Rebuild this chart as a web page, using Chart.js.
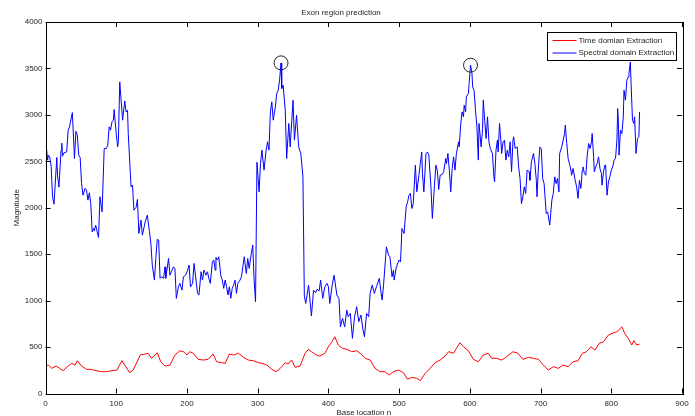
<!DOCTYPE html>
<html>
<head>
<meta charset="utf-8">
<title>Exon region prediction</title>
<script src="https://cdn.jsdelivr.net/npm/chart.js@4.4.1/dist/chart.umd.min.js"></script>
<style>
  html, body { margin: 0; padding: 0; background: #fff; }
  #wrap { width: 695px; height: 416px; }
</style>
</head>
<body>
<div id="wrap"><canvas id="exonChart" width="695" height="416"></canvas></div>
<script>
// values
const spectralX = [1,3,4,6,8,10,12,16,17,19,22,23,24,26,30,32,34,35,38,41,43,45,47,49,51,53,56,58,60,62,64,66,68,69,71,73,75,77,80,83,86,88,90,92,94,96,97,100,102,103,105,109,112,114,116,117,121,123,125,128,130,132,135,137,141,144,
  147,149,151,154,156,158,160,162,164,167,169,170,174,176,178,181,183,185,188,190,193,195,198,201,203,205,208,210,212,215,217,220,222,224,227,229,231,233,236,238,240,241,243,245,248,250,252,254,256,258,260,262,264,266,268,270,272,275,277,279,281,284,286,288,291,293,295,297,299,
  302,304,306,309,312,314,316,318,320,322,325,327,329,331,333,334,336,339,341,344,346,350,352,355,358,361,364,366,368,372,376,379,382,384,387,389,392,395,398,400,402,405,408,412,415,417,420,423,426,428,431,434,437,440,443,446,449,451,454,457,459,462,465,468,472,474,476,478,482,485,487,490,492,493,496,497,500,502,504,507,510,512,514,516,518,520,
  523,525,528,530,532,533,535,538,540,542,545,547,550,552,554,556,558,561,563,566,567,569,571,573,575,577,579,581,584,585,587,589,591,592,594,595,598,599,601,603,604,606,608,610,612,613,616,618,619,621,623,625,627,629,632,634,635,637,639,640,642,644,645,647,649,651,653,655,657,659,661,662,664,667,669,671,
  673,675,677,679,681,684,685,687,690,692,694,695,697,699,701,703,705,708,710,713,716,718,720,722,724,726,727,730,732,734,735,737,739,742,744,746,749,751,753,755,757,759,760,762,764,766,768,770,772,773,775,776,778,780,782,784,786,787,789,791,792,794,796,798,800,802,804,806,808,809,810,811,813,815,817,818,820,822,824,825,827,828,830,832,833,835,837,839,840];
const spectralY = [2674,2513,2566,2548,2447,2118,2038,2541,2350,2222,2620,2695,2555,2591,2601,2835,2871,2914,3025,2530,2824,2781,2566,2541,2262,2135,2208,2189,2082,2161,2047,1740,1777,1752,1813,1740,1680,2118,1956,2638,2638,2674,2871,2835,2925,2943,3057,2799,2655,2710,3355,2943,3150,3032,3050,2799,2225,2243,1974,2003,2089,1723,1867,1705,1849,1920,
  1740,1616,1382,1221,1454,1659,1652,1240,1257,1240,1364,1240,1454,1274,1311,1364,1347,1024,1150,1186,1113,1257,1274,1328,1382,1150,1186,1401,1274,1078,1060,1311,1221,1328,1274,1311,1240,1186,1418,1437,1328,1465,1437,1472,1264,1221,1132,1221,1150,1060,1150,1024,1132,1167,1221,1078,1186,1221,1257,1364,1472,1293,1454,1347,1508,1598,1221,988,2490,
  2171,2477,2620,2405,2620,2710,2620,3032,3140,2943,3086,3230,3265,3374,3559,3284,3319,3050,2530,2907,2655,3158,2728,2996,2655,2584,2333,1049,970,1167,834,1113,1085,1121,1106,1221,1024,1150,1186,1150,970,1150,1274,1060,1024,718,809,718,898,827,862,594,827,934,773,845,683,611,862,827,1078,1167,1078,1150,1240,1113,1006,1167,1579,1490,1472,1257,1328,1221,1364,1382,1437,1418,1777,1723,2010,2064,2135,2154,1992,2045,
  2459,2171,2350,2477,2601,2369,2171,2584,2601,2566,2225,1885,2243,2459,2405,2196,2350,2359,2387,2530,2477,2584,2405,2171,2423,2548,2405,2584,2710,2655,2889,3032,2979,3104,3032,3193,3230,3337,3535,3445,3301,3265,3050,2871,2513,2907,2655,2853,3158,2943,2745,2979,2710,2638,2584,2333,2279,2620,2728,2601,2907,2710,2584,2710,2728,2513,2620,2548,2710,2387,2728,2764,2638,2655,2440,2315,
  2045,2118,2225,2154,2405,2387,2296,2494,2584,2477,2296,2118,2440,2655,2638,2315,2261,1938,1956,1813,2082,2154,2333,2261,2315,2171,2584,2655,2728,2799,2889,2692,2530,2440,2350,2423,2296,2225,2101,2296,2208,2405,2440,2369,2350,2566,2692,2638,2710,2799,2548,2387,2440,2477,2548,2423,2369,2243,2387,2459,2459,2135,2279,2333,2405,2440,2513,2530,2728,3068,2943,2566,2835,2799,2979,3265,3158,3374,3409,3445,3570,3337,2943,2907,2979,2584,2745,2764,3032];

const timeX = [1,4,9,15,20,25,32,37,42,45,51,58,65,72,79,86,94,101,108,112,119,124,134,141,145,150,158,163,169,176,183,190,195,200,204,209,216,223,230,237,242,249,254,260,266,273,280,287,294,301,306,313,320,326,332,339,343,348,353,360,367,372,376,383,388,395,400,405,409,414,420,426,433,440,
  445,452,459,466,473,480,486,492,499,506,512,518,525,530,537,544,551,558,565,570,577,581,586,591,598,605,612,619,626,631,638,645,652,661,668,675,683,690,697,704,711,718,725,732,739,746,753,759,765,771,777,783,789,796,803,808,815,819,824,829,832,836,840];
const timeY = [300,306,271,296,271,245,296,325,306,353,296,260,260,245,235,235,245,252,353,306,224,252,415,425,433,379,439,342,296,306,415,460,450,415,450,433,368,360,368,425,342,332,325,425,415,433,389,360,353,332,325,306,260,235,271,332,318,360,282,296,433,476,450,415,403,433,503,557,611,522,486,476,450,460,
  433,379,360,271,235,235,199,235,252,224,152,174,164,138,218,271,332,360,403,450,433,486,546,503,460,368,342,415,433,379,379,360,396,450,433,368,389,379,368,306,252,289,271,306,289,342,353,433,450,503,468,540,557,630,654,665,718,647,594,522,569,522,532];

// the two circled peaks
const peakX = [333, 601];
const peakY = [3560, 3535];

const xTicks = [0, 100, 200, 300, 400, 500, 600, 700, 800, 900];
const yTicks = [0, 500, 1000, 1500, 2000, 2500, 3000, 3500, 4000];

const FONT = '"Liberation Sans", Arial, Helvetica, sans-serif';
const INK = '#262626';

function toPoints(xs, ys) {
    return xs.map(function (x, i) { return { x: x, y: ys[i] }; });
}

// MATLAB-like box with inward ticks, plus an in-plot legend
const boxAxes = {
    id: 'boxAxes',
    afterDatasetsDraw(chart) {
        const ctx = chart.ctx;
        const a = chart.chartArea;
        const xs = chart.scales.x;
        const ys = chart.scales.y;
        const len = 5;
        ctx.save();
        ctx.strokeStyle = '#000';
        ctx.lineWidth = 1;
        ctx.beginPath();
        xTicks.forEach(function (v) {
            const px = Math.round(xs.getPixelForValue(v)) + 0.5;
            ctx.moveTo(px, a.bottom); ctx.lineTo(px, a.bottom - len);
            ctx.moveTo(px, a.top); ctx.lineTo(px, a.top + len);
        });
        yTicks.forEach(function (v) {
            const py = Math.round(ys.getPixelForValue(v)) + 0.5;
            ctx.moveTo(a.left, py); ctx.lineTo(a.left + len, py);
            ctx.moveTo(a.right, py); ctx.lineTo(a.right - len, py);
        });
        ctx.stroke();
        ctx.strokeRect(Math.round(a.left) + 0.5, Math.round(a.top) + 0.5,
            Math.round(a.right - a.left), Math.round(a.bottom - a.top));
        ctx.restore();
    },
    afterDraw(chart) {
        const ctx = chart.ctx;
        const items = chart.data.datasets.filter(function (d) { return d.inLegend; });
        const bx = 547.5, by = 32.5, bw = 129, bh = 28;
        ctx.save();
        ctx.fillStyle = '#fff';
        ctx.fillRect(bx, by, bw, bh);
        ctx.strokeStyle = '#000';
        ctx.lineWidth = 1;
        ctx.strokeRect(bx, by, bw, bh);
        ctx.font = '8px ' + FONT;
        ctx.textBaseline = 'middle';
        items.forEach(function (d, i) {
            const y = by + 8 + i * 12.5;
            ctx.strokeStyle = d.borderColor;
            ctx.beginPath();
            ctx.moveTo(bx + 5, y); ctx.lineTo(bx + 29, y);
            ctx.stroke();
            ctx.fillStyle = INK;
            ctx.fillText(d.label, bx + 31, y);
        });
        ctx.restore();
    }
};

function plainTick(value) {
    return String(value);
}

new Chart(document.getElementById('exonChart').getContext('2d'), {
    type: 'line',
    data: {
        datasets: [{
            label: 'Time domian Extraction',
            data: toPoints(timeX, timeY),
            borderColor: '#ff0000',
            borderWidth: 1,
            pointRadius: 0,
            inLegend: true
        }, {
            label: 'Spectral domain Extraction',
            data: toPoints(spectralX, spectralY),
            borderColor: '#0000ff',
            borderWidth: 1,
            pointRadius: 0,
            inLegend: true
        }, {
            label: 'peaks',
            data: toPoints(peakX, peakY),
            showLine: false,
            pointRadius: 7,
            pointBorderWidth: 1,
            pointBorderColor: '#222',
            pointBackgroundColor: 'rgba(0,0,0,0)',
            inLegend: false
        }]
    },
    plugins: [boxAxes],
    options: {
        responsive: false,
        animation: false,
        layout: { padding: { left: 0, right: 13, top: 0, bottom: 0 } },
        plugins: {
            legend: { display: false },
            tooltip: { enabled: false },
            title: {
                display: true,
                text: 'Exon region prediction',
                color: INK,
                font: { family: FONT, size: 8, weight: 'normal' },
                padding: { top: 8, bottom: 4.4 }
            }
        },
        scales: {
            x: {
                type: 'linear',
                min: 0,
                max: 900,
                afterBuildTicks: function (s) { s.ticks = xTicks.map(function (v) { return { value: v }; }); },
                afterFit: function (s) { s.height = 22.5; },
                grid: { display: false, drawTicks: false },
                border: { display: false },
                ticks: { color: INK, font: { family: FONT, size: 8 }, padding: 5, maxRotation: 0, autoSkip: false, callback: plainTick },
                title: {
                    display: true,
                    text: 'Base location n',
                    color: INK,
                    font: { family: FONT, size: 8, lineHeight: 0.75 },
                    padding: 0
                }
            },
            y: {
                min: 0,
                max: 4000,
                afterBuildTicks: function (s) { s.ticks = yTicks.map(function (v) { return { value: v }; }); },
                afterFit: function (s) { s.width = 45.5; },
                grid: { display: false, drawTicks: false },
                border: { display: false },
                ticks: { color: INK, font: { family: FONT, size: 8 }, padding: 3, autoSkip: false, callback: plainTick },
                title: {
                    display: true,
                    text: 'Magnitude',
                    color: INK,
                    font: { family: FONT, size: 8 },
                    padding: { top: 12, bottom: 0 }
                }
            }
        }
    }
});
</script>
</body>
</html>
